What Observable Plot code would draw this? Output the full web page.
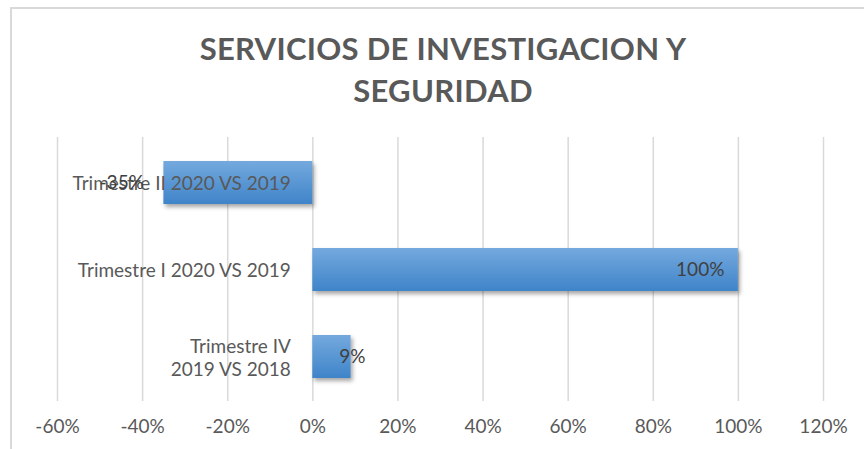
<!DOCTYPE html>
<html>
<head>
<meta charset="utf-8">
<script src="https://cdn.jsdelivr.net/npm/d3@7"></script>
<script src="https://cdn.jsdelivr.net/npm/@observablehq/plot@0.6"></script>
<style>
  html, body { margin: 0; padding: 0; background: #fff; }
  #wrap { position: relative; width: 864px; height: 449px; overflow: hidden; font-family: Lato, "Open Sans", sans-serif; }
  #frame { position: absolute; left: 10px; top: 7px; width: 900px; height: 500px; border: 2px solid #d9d9d9; box-sizing: border-box; }
  #title { position: absolute; left: 11px; width: 864px; top: 27px; text-align: center; font-weight: 700; font-size: 31px; line-height: 42px; color: #595959; letter-spacing: 0.3px; }
  #chart { position: absolute; left: 0; top: 0; }
</style>
</head>
<body>
<div id="wrap">
  <div id="frame"></div>
  <div id="title">SERVICIOS DE INVESTIGACION Y<br>SEGURIDAD</div>
  <div id="chart"></div>
</div>
<script>
const categories = ["Trimestre II 2020 VS 2019", "Trimestre I 2020 VS 2019", "Trimestre IV 2019 VS 2018"];
const categoryLabels = ["Trimestre II 2020 VS 2019", "Trimestre I 2020 VS 2019", "Trimestre IV\n2019 VS 2018"];
const values = [-0.35, 1.00, 0.09];
const valueLabels = ["-35%", "100%", "9%"];
const xTicks = [-0.6, -0.4, -0.2, 0, 0.2, 0.4, 0.6, 0.8, 1.0, 1.2];

const data = categories.map((c, i) => ({cat: c, label: categoryLabels[i], value: values[i], vlabel: valueLabels[i]}));

const defs = () => {
  const svgNS = "http://www.w3.org/2000/svg";
  const d = document.createElementNS(svgNS, "defs");
  d.innerHTML = `
    <linearGradient id="barGrad" x1="0" y1="0" x2="0" y2="1">
      <stop offset="0" stop-color="#74a9de"/>
      <stop offset="1" stop-color="#3f84c9"/>
    </linearGradient>
    <filter id="shadow" x="-10%" y="-20%" width="130%" height="160%">
      <feDropShadow dx="2" dy="3" stdDeviation="2" flood-color="#000" flood-opacity="0.35"/>
    </filter>`;
  return d;
};

const withShadow = (i, s, v, d, c, next) => { const g = next(i, s, v, d, c); g.setAttribute("filter", "url(#shadow)"); return g; };

const chart = Plot.plot({
  width: 864,
  height: 449,
  marginTop: 137,
  marginBottom: 48,
  marginLeft: 57,
  marginRight: 41,
  style: {fontFamily: "Lato, 'Open Sans', sans-serif", fontSize: "19px", color: "#595959", background: "transparent"},
  x: {domain: [-0.6, 1.2], ticks: xTicks, tickFormat: d => Math.round(d * 100) + "%", label: null},
  y: {domain: categories, paddingInner: 0.51, paddingOuter: 0.26, axis: null},
  marks: [
    defs,
    Plot.gridX(xTicks, {stroke: "#d9d9d9", strokeOpacity: 1, strokeWidth: 1.5}),
    Plot.axisX(xTicks, {tickSize: 0, tickPadding: 18, tickFormat: d => Math.round(d * 100) + "%", fill: "#595959", fontSize: 19, label: null}),
    Plot.barX(data, {x: "value", y: "cat", fill: "url(#barGrad)", render: withShadow}),
    Plot.text(data, {x: 0, y: "cat", text: "label", textAnchor: "end", dx: -22, fill: "#595959", fontSize: 19, lineHeight: 1.2}),
    Plot.text(data.filter(d => d.value < 0), {x: "value", y: "cat", text: "vlabel", textAnchor: "end", dx: -20, fill: "#404040", fontSize: 19}),
    Plot.text(data.filter(d => d.value >= 0.5), {x: "value", y: "cat", text: "vlabel", textAnchor: "end", dx: -14, fill: "#404040", fontSize: 19}),
    Plot.text(data.filter(d => d.value >= 0 && d.value < 0.5), {x: "value", y: "cat", text: "vlabel", textAnchor: "start", dx: -12, fill: "#404040", fontSize: 19})
  ]
});
document.getElementById("chart").appendChild(chart);
</script>
</body>
</html>
